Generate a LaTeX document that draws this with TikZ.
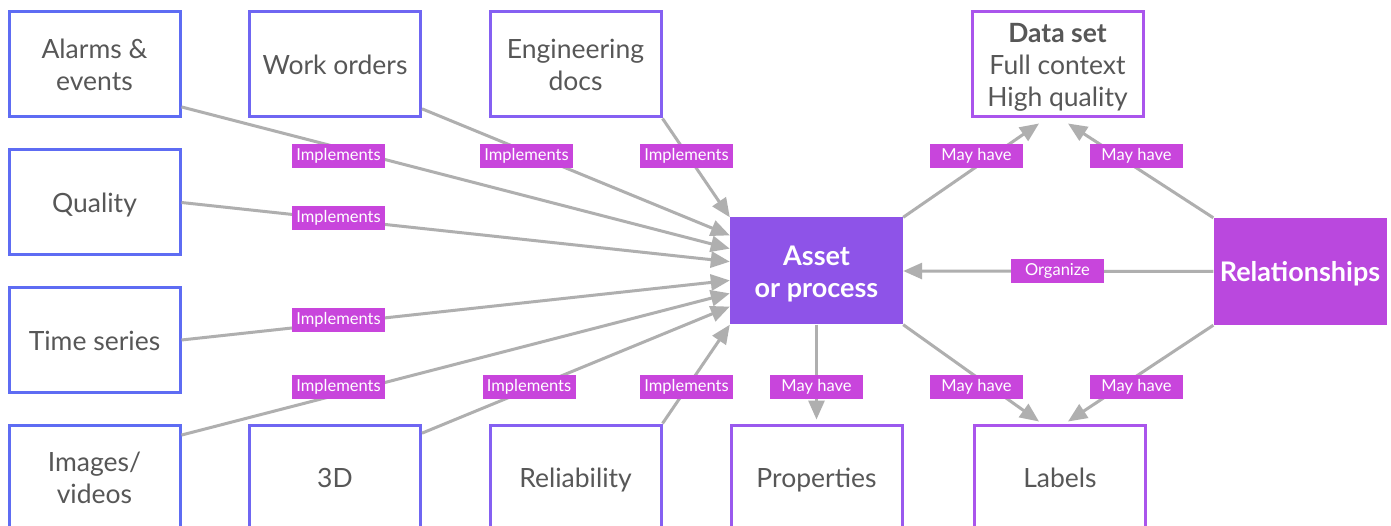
\documentclass[tikz,border=0pt]{standalone}
\usepackage{fontspec}
\setmainfont{Lato}
\usetikzlibrary{arrows.meta,calc}

\definecolor{boxtext}{HTML}{575757}
\definecolor{wire}{HTML}{AFAFAF}
\definecolor{tagfill}{HTML}{C845DC}
\definecolor{assetfill}{HTML}{8E53E8}
\definecolor{relfill}{HTML}{BA48DE}
\definecolor{edgeA}{HTML}{5E6CF3}
\definecolor{edgeB}{HTML}{6F66F2}
\definecolor{edgeC}{HTML}{8560F2}
\definecolor{edgeD}{HTML}{9A59EE}
\definecolor{edgeE}{HTML}{AA55EC}

% every box line gets the same ascent and descent, so text sits alike
\newcommand\boxtop{\rule{0pt}{27pt}}
\newcommand\boxbottom{\rule[-7pt]{0pt}{0pt}}
% stacked lines, nudged down a little inside their box
\newcommand\stacked[1]{\raisebox{-4pt}[\height][\depth]{%
  \begin{tabular}{@{}c@{}}#1\end{tabular}}}

\tikzset{
  srcbox/.style={draw=#1, line width=3pt, fill=white, rectangle,
    minimum width=171pt, minimum height=105pt, inner sep=0pt,
    align=center, text=boxtext, font=\fontsize{26.5}{32}\selectfont,
    execute at begin node=\boxtop, execute at end node=\boxbottom},
  hubbox/.style={fill=#1, rectangle, minimum width=173pt, minimum height=107pt,
    inner sep=0pt, align=center, text=white,
    font=\fontsize{27}{32}\selectfont\bfseries,
    execute at begin node=\boxtop, execute at end node=\boxbottom},
  tag/.style={fill=tagfill, text=white, rectangle, minimum width=93pt,
    minimum height=24pt, inner sep=0pt, font=\fontsize{16.5}{18}\selectfont},
  conn/.style={draw=wire, line width=3pt,
    -{Triangle[length=19pt,width=16pt]}},
}

\begin{document}
\begin{tikzpicture}[x=1pt,y=-1pt]
\clip (0,0) rectangle (1391,526);
\fill[white] (0,0) rectangle (1391,526);

% source boxes
\node[srcbox=edgeA] (alarms)  at (94.5,64.5)  {\stacked{Alarms \&\\events}};
\node[srcbox=edgeB] (work)    at (335,64.5)   {Work orders};
\node[srcbox=edgeC] (eng)     at (575.5,64.5) {\stacked{Engineering\\docs}};
\node[srcbox=edgeA] (quality) at (94.5,202.5) {Quality};
\node[srcbox=edgeA] (tseries) at (94.5,340)   {Time series};
\node[srcbox=edgeA] (images)  at (94.5,477.5) {\stacked{Images/\\videos}};
\node[srcbox=edgeB] (threed)  at (335,477.5)  {3D};
\node[srcbox=edgeC] (rel)     at (575.5,477.5){Reliability};

% outputs
\node[srcbox=edgeD] (props)   at (816.5,477.5){Properties};
\node[srcbox=edgeE] (labels)  at (1060,477.5) {Labels};
\node[srcbox=edgeE] (dataset) at (1057.5,64.5)
  {\stacked{{\bfseries Data set}\\Full context\\High quality}};

% hubs
\node[hubbox=assetfill] (asset) at (816.5,271) {\stacked{Asset\\or process}};
\node[hubbox=relfill]   (relat) at (1300,271.5) {Relationships};

% connectors into the asset
\draw[conn] (alarms.-26) -- (asset);
\draw[conn] (work.-27) -- (asset);
\draw[conn] (eng.south east) -- (asset.north west);
\draw[conn] (quality.east) -- (asset);
\draw[conn] (tseries.east) -- (asset);
\draw[conn] (images.26) -- (asset);
\draw[conn] (threed.27) -- (asset);
\draw[conn] (rel.north east) -- (asset.south west);

% connectors on the right
\draw[conn, shorten >=4pt] (asset.south) -- (props.north);
\draw[conn] (asset.north east) -- ($(dataset.south)+(-18.5,5)$);
\draw[conn] (relat.north west) -- ($(dataset.south)+(10.5,5)$);
\draw[conn] (relat.west) -- (asset.east);
\draw[conn] (asset.south east) -- ($(labels.north)+(-21,-2)$);
\draw[conn] (relat.south west) -- ($(labels.north)+(8,-2)$);

% relation tags
\node[tag] (tA) at (338.5,156) {Implements};
\node[tag] (tW) at (526.5,156) {Implements};
\node[tag] (tE) at (686.5,156) {Implements};
\node[tag] (tQ) at (338.5,218) {Implements};
\node[tag] (tT) at (338.5,320) {Implements};
\node[tag] (tI) at (338.5,387) {Implements};
\node[tag] (tD) at (529,387)   {Implements};
\node[tag] (tR) at (686.5,387) {Implements};
\node[tag] (tP) at (816.5,387) {May have};
\node[tag] (tL1) at (976.5,387) {May have};
\node[tag] (tL2) at (1136.5,387) {May have};
\node[tag] (tS1) at (976.5,156) {May have};
\node[tag] (tS2) at (1136.5,156) {May have};
\node[tag] (tO) at (1057.5,271) {Organize};
\end{tikzpicture}
\end{document}
